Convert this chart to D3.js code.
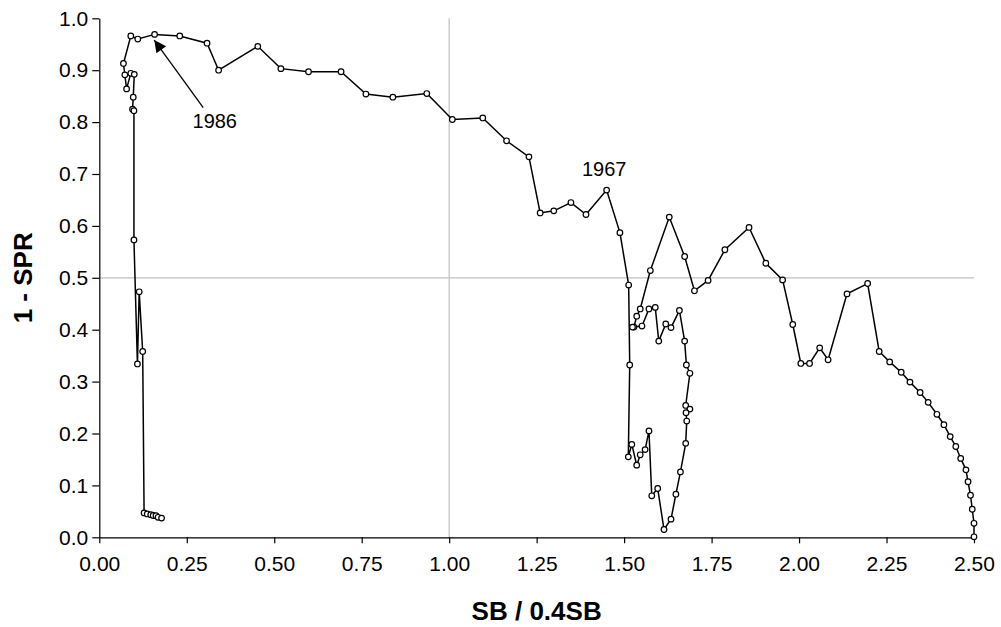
<!DOCTYPE html>
<html>
<head>
<meta charset="utf-8">
<script src="https://cdn.jsdelivr.net/npm/d3@7"></script>
<style>
  body { margin: 0; background: #fff; }
  text { font-family: "Liberation Sans", Arial, sans-serif; }
</style>
</head>
<body>
<div id="viz"></div>
<script>
// SB / 0.4SB, in time order (starts unfished at bottom right)
var sbRatio = [2.500, 2.500, 2.495, 2.490, 2.483, 2.477, 2.462, 2.448, 2.432, 2.414,
               2.394, 2.369, 2.346, 2.317, 2.292, 2.259, 2.229, 2.196, 2.137, 2.083,
               2.059, 2.030, 2.005, 1.982, 1.953, 1.905, 1.857, 1.788, 1.740, 1.701,
               1.673, 1.629, 1.575, 1.546, 1.536, 1.528, 1.524, 1.551, 1.571, 1.589,
               1.599, 1.619, 1.634, 1.658, 1.673, 1.678, 1.688, 1.676, 1.688, 1.677,
               1.679, 1.676, 1.661, 1.648, 1.634, 1.614, 1.596, 1.579, 1.571, 1.560,
               1.546, 1.536, 1.522, 1.512, 1.516, 1.513, 1.488, 1.450, 1.391, 1.348,
               1.299, 1.260, 1.228, 1.164, 1.096, 1.009, 0.936, 0.839, 0.762, 0.691,
               0.598, 0.519, 0.453, 0.341, 0.308, 0.230, 0.158, 0.110, 0.090, 0.069,
               0.073, 0.078, 0.090, 0.100, 0.097, 0.095, 0.099, 0.099, 0.109, 0.114,
               0.124, 0.128, 0.137, 0.147, 0.154, 0.162, 0.168, 0.178];

// 1 - SPR, same order
var oneMinusSpr = [0.001, 0.027, 0.054, 0.081, 0.107, 0.130, 0.152, 0.175, 0.194, 0.217,
                   0.237, 0.260, 0.279, 0.299, 0.318, 0.338, 0.358, 0.489, 0.469, 0.342,
                   0.365, 0.335, 0.335, 0.410, 0.496, 0.528, 0.597, 0.554, 0.495, 0.475,
                   0.541, 0.617, 0.514, 0.440, 0.426, 0.405, 0.405, 0.407, 0.440, 0.443,
                   0.378, 0.411, 0.404, 0.437, 0.378, 0.332, 0.316, 0.254, 0.247, 0.240,
                   0.224, 0.181, 0.126, 0.083, 0.035, 0.015, 0.094, 0.080, 0.205, 0.169,
                   0.159, 0.139, 0.179, 0.155, 0.332, 0.486, 0.587, 0.669, 0.622, 0.645,
                   0.629, 0.625, 0.733, 0.764, 0.808, 0.805, 0.855, 0.848, 0.854, 0.897,
                   0.897, 0.903, 0.946, 0.900, 0.952, 0.966, 0.969, 0.960, 0.966, 0.913,
                   0.891, 0.864, 0.894, 0.892, 0.848, 0.825, 0.822, 0.573, 0.334, 0.473,
                   0.358, 0.047, 0.045, 0.0435, 0.042, 0.0416, 0.0385, 0.037];

var xTicks = [0, 0.25, 0.5, 0.75, 1.0, 1.25, 1.5, 1.75, 2.0, 2.25, 2.5];
var yTicks = [0, 0.1, 0.2, 0.3, 0.4, 0.5, 0.6, 0.7, 0.8, 0.9, 1.0];

// reference lines
var refX = [1.0];
var refY = [0.5];

// year labels (text position in data units)
var labelYears = ["1986", "1967"];
var labelX     = [0.330, 1.443];
var labelY     = [0.789, 0.697];
// arrow for 1986: tail -> tip, in data units
var arrowFrom = [0.297, 0.828];
var arrowTo   = [0.157, 0.958];

var width  = 1001,
    height = 627,
    margin = {top: 18.3, right: 27, bottom: 89.7, left: 99.3},
    w = width - margin.left - margin.right,
    h = height - margin.top - margin.bottom;

var pts = sbRatio.map(function(d, i) { return {x: d, y: oneMinusSpr[i]}; });

var x = d3.scaleLinear().domain([0, 2.5]).range([0, w]);
var y = d3.scaleLinear().domain([0, 1]).range([h, 0]);

var svg = d3.select("#viz").append("svg")
    .attr("width", width)
    .attr("height", height)
    .style("display", "block");

svg.append("defs").append("marker")
    .attr("id", "head")
    .attr("viewBox", "0 0 10 10")
    .attr("refX", 10)
    .attr("refY", 5)
    .attr("markerWidth", 16)
    .attr("markerHeight", 12)
    .attr("markerUnits", "userSpaceOnUse")
    .attr("orient", "auto")
  .append("path")
    .attr("d", "M0,0L10,5L0,10Z")
    .style("fill", "#000");

var g = svg.append("g")
    .attr("transform", "translate(" + margin.left + "," + margin.top + ")");

// grey reference lines
g.selectAll("line.refx").data(refX).enter().append("line")
    .attr("x1", function(d) { return x(d); })
    .attr("x2", function(d) { return x(d); })
    .attr("y1", 0).attr("y2", h)
    .style("stroke", "#c0c0c0").style("stroke-width", 1.2);
g.selectAll("line.refy").data(refY).enter().append("line")
    .attr("x1", 0).attr("x2", w)
    .attr("y1", function(d) { return y(d); })
    .attr("y2", function(d) { return y(d); })
    .style("stroke", "#c0c0c0").style("stroke-width", 1.2);

// axes
var xAxis = g.append("g")
    .attr("transform", "translate(0," + h + ")")
    .call(d3.axisBottom(x).tickValues(xTicks).tickFormat(d3.format(".2f")).tickSize(6).tickSizeOuter(0));
var yAxis = g.append("g")
    .call(d3.axisLeft(y).tickValues(yTicks).tickFormat(d3.format(".1f")).tickSize(7).tickSizeOuter(0));

[xAxis, yAxis].forEach(function(a) {
  a.select(".domain").style("stroke", "#000").style("stroke-width", 1.2);
  a.selectAll(".tick line").style("stroke", "#000").style("stroke-width", 1.2);
  a.selectAll(".tick text")
    .style("font-family", "'Liberation Sans', Arial, sans-serif")
    .style("font-size", "21px")
    .style("fill", "#000");
});
xAxis.selectAll(".tick text").attr("y", 19);
yAxis.selectAll(".tick text").attr("x", -11);

// axis titles
svg.append("text")
    .attr("x", margin.left + w / 2)
    .attr("y", 620)
    .attr("text-anchor", "middle")
    .style("font-size", "26px")
    .style("font-weight", "bold")
    .text("SB / 0.4SB");
svg.append("text")
    .attr("transform", "translate(31.5," + (margin.top + h / 2) + ") rotate(-90)")
    .attr("text-anchor", "middle")
    .style("font-size", "26px")
    .style("font-weight", "bold")
    .text("1 - SPR");

// trajectory
var line = d3.line()
    .x(function(d) { return x(d.x); })
    .y(function(d) { return y(d.y); });

g.append("path")
    .datum(pts)
    .attr("d", line)
    .style("fill", "none")
    .style("stroke", "#000")
    .style("stroke-width", 1.5);

g.selectAll("circle.pt")
    .data(pts)
    .enter()
    .append("circle")
    .attr("class", "pt")
    .attr("cx", function(d) { return x(d.x); })
    .attr("cy", function(d) { return y(d.y); })
    .attr("r", 2.8)
    .style("fill", "#fff")
    .style("stroke", "#000")
    .style("stroke-width", 1.2);

// annotations
g.append("line")
    .attr("x1", x(arrowFrom[0])).attr("y1", y(arrowFrom[1]))
    .attr("x2", x(arrowTo[0])).attr("y2", y(arrowTo[1]))
    .style("stroke", "#000")
    .style("stroke-width", 1.3)
    .attr("marker-end", "url(#head)");

g.selectAll("text.year")
    .data(labelYears)
    .enter()
    .append("text")
    .attr("class", "year")
    .attr("x", function(d, i) { return x(labelX[i]); })
    .attr("y", function(d, i) { return y(labelY[i]); })
    .attr("text-anchor", "middle")
    .style("font-size", "20px")
    .text(function(d) { return d; });
</script>
</body>
</html>
